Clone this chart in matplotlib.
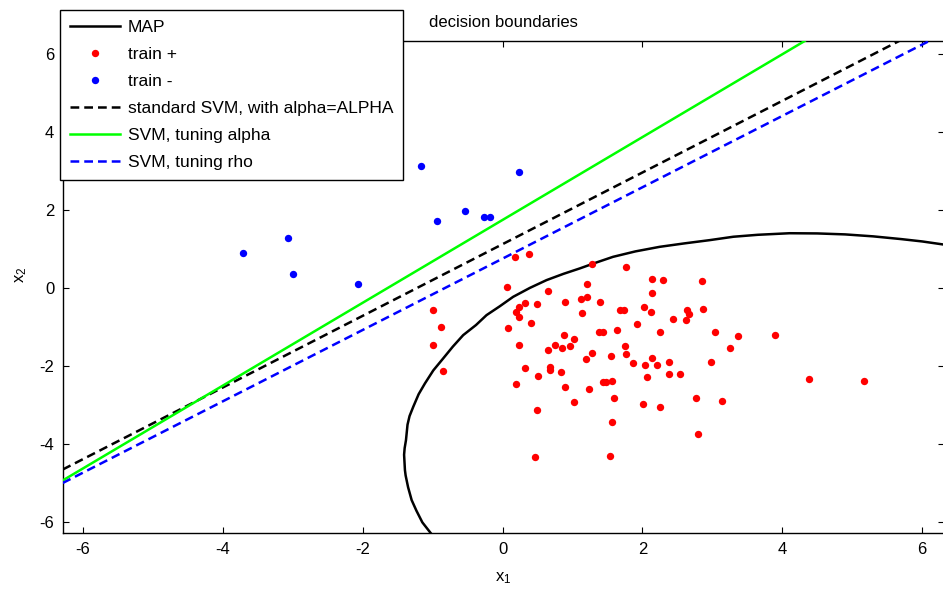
import matplotlib
matplotlib.use("Agg")
import matplotlib.pyplot as plt
import numpy as np

plt.rcParams["font.family"] = ["Liberation Sans", "DejaVu Sans"]
plt.rcParams["axes.unicode_minus"] = False
plt.rcParams["mathtext.fontset"] = "custom"
plt.rcParams["mathtext.rm"] = "Liberation Sans"
plt.rcParams["mathtext.it"] = "Liberation Sans"

# training samples, class +
train_pos_x = [0.176, 0.383, 1.286, 1.759, 0.061, 0.644, 1.214, 1.116, 1.214, 0.893,
               1.400, -0.996, 0.326, 0.230, 0.494, 0.193, 0.230, 1.137, 1.679, 1.730,
               2.137, 2.290, 2.851, 2.137, 2.026, 2.119, 2.644, 2.669, 2.629, 2.871,
               2.437, -0.886, 0.080, 0.401, 1.929, 2.250, 3.040, 3.364, 3.890, 3.250,
               -0.996, 0.233, 0.873, 1.023, 1.373, 1.430, 1.643, 0.644, 0.743, 0.857,
               0.966, 1.286, 1.187, 1.550, 1.744, 1.759, 1.871, 2.040, 2.137, 2.214,
               2.380, 2.986, 2.061, 2.380, 2.533, 4.383, 5.173, -0.846, 0.323, 0.680,
               0.680, 0.514, 0.836, 0.194, 0.893, 1.233, 1.436, 1.483, 1.571, 1.590,
               2.004, 2.250, 1.023, 0.493, 1.569, 0.457, 1.533, 2.761, 3.137, 2.797]
train_pos_y = [0.780, 0.865, 0.614, 0.532, 0.020, -0.090, 0.090, -0.279, -0.243, -0.356,
               -0.356, -0.568, -0.389, -0.491, -0.422, -0.606, -0.755, -0.645, -0.568, -0.568,
               0.238, 0.200, 0.166, -0.133, -0.496, -0.612, -0.568, -0.678, -0.832, -0.535,
               -0.791, -1.008, -1.016, -0.901, -0.934, -1.123, -1.123, -1.233, -1.200, -1.528,
               -1.451, -1.456, -1.200, -1.305, -1.126, -1.126, -1.088, -1.599, -1.459, -1.528,
               -1.494, -1.668, -1.822, -1.745, -1.489, -1.681, -1.932, -1.975, -1.789, -1.975,
               -1.899, -1.899, -2.270, -2.193, -2.193, -2.341, -2.377, -2.116, -2.052, -2.014,
               -2.091, -2.265, -2.160, -2.454, -2.531, -2.597, -2.416, -2.416, -2.377, -2.820,
               -2.966, -3.037, -2.930, -3.114, -3.442, -4.330, -4.291, -2.820, -2.892, -3.736]

# training samples, class -
train_neg_x = [-1.167, 0.233, -0.543, -0.939, -0.263, -0.181, -3.071, -3.714, -2.991, -2.067]
train_neg_y = [3.117, 2.963, 1.973, 1.709, 1.819, 1.819, 1.267, 0.898, 0.353, 0.097]

# MAP decision boundary
map_x = [-1.024, -1.147, -1.232, -1.300, -1.351, -1.386, -1.396, -1.408, -1.400, -1.381,
         -1.359, -1.330, -1.277, -1.200, -1.110, -0.990, -0.849, -0.710, -0.563, -0.380,
         -0.229, -0.040, 0.151, 0.390, 0.629, 0.870, 1.104, 1.340, 1.580, 1.900,
         2.247, 2.600, 2.961, 3.300, 3.650, 4.104, 4.500, 4.900, 5.300, 5.700,
         6.000, 6.310]
map_y = [-6.282, -6.000, -5.700, -5.430, -5.100, -4.800, -4.662, -4.270, -4.100, -3.895,
         -3.500, -3.280, -3.042, -2.720, -2.444, -2.110, -1.804, -1.500, -1.208, -0.950,
         -0.696, -0.470, -0.228, 0.000, 0.200, 0.360, 0.499, 0.650, 0.796, 0.935,
         1.052, 1.140, 1.223, 1.310, 1.360, 1.400, 1.395, 1.370, 1.320, 1.250,
         1.190, 1.110]

# linear SVM boundaries: x2 = slope * x1 + intercept
svm_labels = ["standard SVM, with alpha=ALPHA", "SVM, tuning alpha", "SVM, tuning rho"]
svm_slopes = [0.917, 1.060, 0.913]
svm_intercepts = [1.12, 1.74, 0.75]
svm_colors = ["black", "#00ff00", "blue"]
svm_styles = ["--", "-", "--"]

x_ticks = [-6, -4, -2, 0, 2, 4, 6]
y_ticks = [-6, -4, -2, 0, 2, 4, 6]

W, H = 943, 592
fig = plt.figure(figsize=(W / 100, H / 100), dpi=100)
ax = fig.add_axes([62.7 / W, 1 - 533.3 / H, (943.8 - 62.7) / W, (533.3 - 41) / H])

fs = 12
lfs = 12.5
ax.plot(map_x, map_y, color="black", lw=1.8, label="MAP", zorder=3)
ax.plot(train_pos_x, train_pos_y, ls="none", marker="o", ms=5.3, mfc="red", mec="none",
        label="train +", zorder=4)
ax.plot(train_neg_x, train_neg_y, ls="none", marker="o", ms=5.3, mfc="blue", mec="none",
        label="train -", zorder=4)
for lab, m, b, c, s in zip(svm_labels, svm_slopes, svm_intercepts, svm_colors, svm_styles):
    kw = dict(dashes=(3.5, 2.0)) if s == "--" else {}
    ax.axline((0, b), slope=m, color=c, ls=s, lw=1.8, label=lab, zorder=5, **kw)

ax.set_xlim(-6.29, 6.31)
ax.set_ylim(-6.28, 6.32)
ax.set_xticks(x_ticks)
ax.set_yticks(y_ticks)
ax.tick_params(direction="in", length=4, width=0.8, top=True, right=True,
               labelsize=fs, pad=6)
for sp in ax.spines.values():
    sp.set_linewidth(1.0)

ax.set_title("decision boundaries", fontsize=fs, pad=10)
ax.set_xlabel(r"x$_{\mathrm{1}}$", fontsize=fs, labelpad=10)
ax.set_ylabel(r"x$_{\mathrm{2}}$", fontsize=fs)
ax.yaxis.set_label_coords(-(62.7 - 29) / (943.8 - 62.7), (533.3 - 275) / (533.3 - 41))

leg = ax.legend(loc="upper left", bbox_to_anchor=(60 / W, 1 - 10 / H),
                bbox_transform=fig.transFigure, borderaxespad=0, fancybox=False,
                framealpha=1, edgecolor="black", fontsize=lfs, handlelength=2.9,
                handletextpad=0.42, labelspacing=0.68, borderpad=0.58, numpoints=1)
leg.get_frame().set_linewidth(1.0)
leg.set_zorder(10)

fig.savefig("out.png", dpi=100, facecolor="white")
